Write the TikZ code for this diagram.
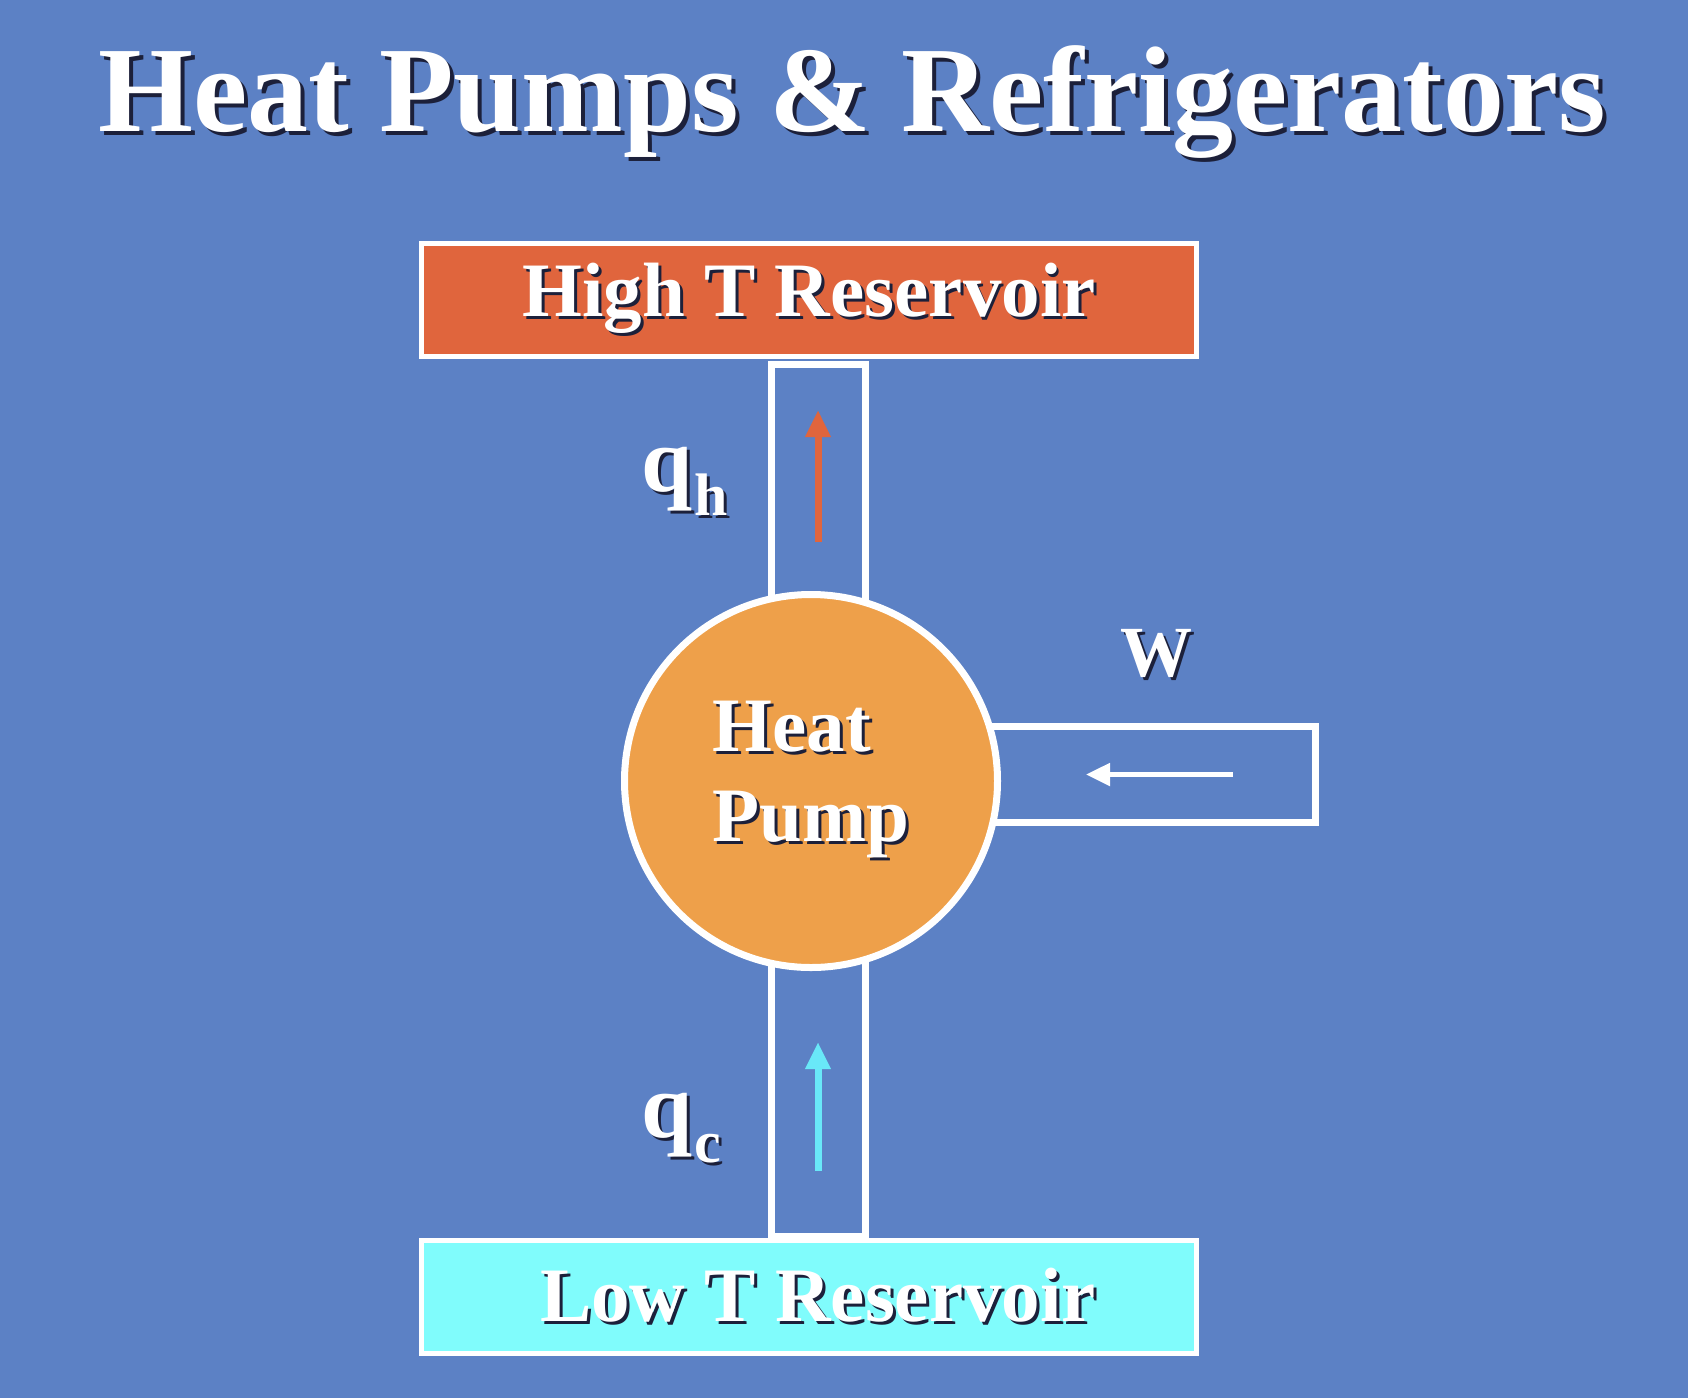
\documentclass[tikz,border=0pt]{standalone}
\usepackage{fontspec}
\setmainfont{Liberation Serif}
\usetikzlibrary{arrows.meta}
\definecolor{bg}{RGB}{92,129,197}
\definecolor{hotred}{RGB}{224,101,61}
\definecolor{pumporange}{RGB}{238,160,74}
\definecolor{coldcyan}{RGB}{128,252,252}
\definecolor{arrowcyan}{RGB}{105,232,248}
\definecolor{shade}{RGB}{28,32,58}
\newdimen\txtshoff
\txtshoff=3pt
\newcommand{\shtxt}[1]{\leavevmode\rlap{\hspace{\txtshoff}\raisebox{-\txtshoff}{\textcolor{shade}{#1}}}#1}
\tikzset{
  reservoir/.style={draw=white, line width=5pt, inner sep=0pt, minimum width=775pt, minimum height=113pt,
    text=white, font=\bfseries\fontsize{77}{77}\selectfont},
  pipe/.style={draw=white, fill=bg, line width=7pt, inner sep=0pt},
  pumpnode/.style={circle, draw=white, fill=pumporange, line width=7pt, inner sep=0pt, minimum size=373pt,
    text=white, align=left, font=\bfseries\fontsize{77}{90}\selectfont},
  flow/.style={line width=7pt, -{Triangle[length=27pt,width=24pt]}},
  work/.style={white, line width=5pt, -{Triangle[length=24pt,width=22pt]}},
  label/.style={text=white, inner sep=0pt, font=\bfseries}
}
\begin{document}
\begin{tikzpicture}[x=1pt,y=-1pt]
\useasboundingbox (0,0) rectangle (1688,1398);
\fill[bg] (0,0) rectangle (1688,1398);
% title
\node[label, anchor=base, font=\bfseries\fontsize{122}{122}\selectfont] (title) at (852,131)
  {\txtshoff=4pt\shtxt{Heat Pumps \& Refrigerators}};
% pipes and work channel
\node[pipe, minimum width=94pt, minimum height=255pt, anchor=north] (uppipe) at (818,361) {};
\node[pipe, minimum width=94pt, minimum height=296pt, anchor=south] (lowpipe) at (818,1240) {};
\node[pipe, minimum width=335.5pt, minimum height=96pt] (wbox) at (1147.75,774.5) {};
% heat pump
\node[pumpnode] (pump) at (811,781) {\shtxt{Heat}\\\shtxt{Pump}};
% reservoirs
\node[reservoir, fill=hotred] (hot) at (809,300) {\shtxt{High T Reservoir}};
\node[reservoir, fill=coldcyan] (cold) at (809,1296.5) {\hspace*{18pt}\shtxt{Low T Reservoir}};
% arrows
\coordinate (qhs) at (818,542);
\coordinate (qhe) at (818,410);
\coordinate (qcs) at (818,1171);
\coordinate (qce) at (818,1042);
\coordinate (ws) at (1233,774.5);
\coordinate (we) at (1086,774.5);
\draw[flow, hotred] (qhs) -- (qhe);
\draw[flow, arrowcyan] (qcs) -- (qce);
\draw[work] (ws) -- (we);
% labels
\node[label, anchor=base west, font=\bfseries\fontsize{92}{92}\selectfont] (qh) at (641,491)
  {\shtxt{q}\hspace{2pt}\raisebox{-24pt}{\fontsize{60}{60}\selectfont\shtxt{h}}};
\node[label, anchor=base west, font=\bfseries\fontsize{92}{92}\selectfont] (qc) at (641,1137)
  {\shtxt{q}\hspace{2pt}\raisebox{-25pt}{\fontsize{60}{60}\selectfont\shtxt{c}}};
\node[label, anchor=base, font=\bfseries\fontsize{72}{72}\selectfont] (wlab) at (1156,676) {\shtxt{W}};
\end{tikzpicture}
\end{document}
